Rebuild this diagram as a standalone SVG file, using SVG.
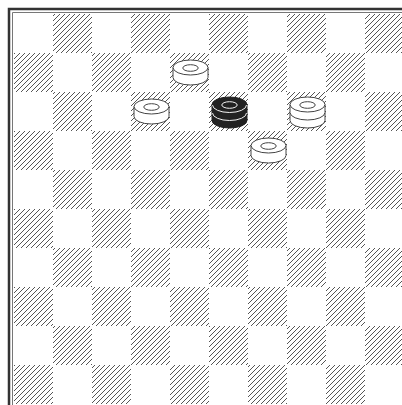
<svg xmlns="http://www.w3.org/2000/svg" width="402" height="405" viewBox="0 0 402 405">
<style>
.wside{fill:#fff;stroke:#444;stroke-width:1}
.wtop{fill:#fff;stroke:#444;stroke-width:1}
.whole{fill:none;stroke:#444;stroke-width:1}
.bfill{fill:#222;stroke:#222;stroke-width:1}
.bline{fill:none;stroke:#f2f2f2;stroke-width:1}
</style>
<defs>
<pattern id="hatch" patternUnits="userSpaceOnUse" width="5" height="5">
<path d="M-1,1 L1,-1 M0,5 L5,0 M4,6 L6,4" stroke="#555" stroke-width="1"/>
</pattern>
<g id="rowA">
<rect x="53" width="39" height="39"/><rect x="131" width="39" height="39"/><rect x="209" width="39" height="39"/><rect x="287" width="39" height="39"/><rect x="365" width="39" height="39"/>
</g>
<g id="rowB">
<rect x="14" width="39" height="39"/><rect x="92" width="39" height="39"/><rect x="170" width="39" height="39"/><rect x="248" width="39" height="39"/><rect x="326" width="39" height="39"/>
</g>
</defs>
<rect width="402" height="405" fill="#fff"/>
<g id="board" fill="url(#hatch)">
<use href="#rowA" y="14"/>
<use href="#rowB" y="53"/>
<use href="#rowA" y="92"/>
<use href="#rowB" y="131"/>
<use href="#rowA" y="170"/>
<use href="#rowB" y="209"/>
<use href="#rowA" y="248"/>
<use href="#rowB" y="287"/>
<use href="#rowA" y="326"/>
<use href="#rowB" y="365"/>
</g>
<g id="frame" fill="none">
<path d="M9,410 V9 H410" stroke="#333" stroke-width="2.5"/>
<path d="M12.5,410 V12.5 H410" stroke="#777" stroke-width="1"/>
</g>
<g id="connectors"></g>
<g id="piece-a">
<path class="wside" d="M173,67.5 V77.5 A17.5,7.5 0 0 0 208,77.5 V67.5 Z"/>
<ellipse class="wtop" cx="190.5" cy="67.5" rx="17.5" ry="7.5"/>
<ellipse class="whole" cx="190.5" cy="68" rx="7.7" ry="3.3"/>
</g>
<g id="piece-b">
<path class="wside" d="M134,106.5 V116.5 A17.5,7.5 0 0 0 169,116.5 V106.5 Z"/>
<ellipse class="wtop" cx="151.5" cy="106.5" rx="17.5" ry="7.5"/>
<ellipse class="whole" cx="151.5" cy="107" rx="7.7" ry="3.3"/>
</g>
<g id="piece-e">
<path class="wside" d="M251,145.5 V155.5 A17.5,7.5 0 0 0 286,155.5 V145.5 Z"/>
<ellipse class="wtop" cx="268.5" cy="145.5" rx="17.5" ry="7.5"/>
<ellipse class="whole" cx="268.5" cy="146" rx="7.7" ry="3.3"/>
</g>
<g id="piece-d">
<path class="wside" d="M290,112.5 V120.5 A17.5,7.5 0 0 0 325,120.5 V112.5 Z"/>
<path class="wside" d="M290,104.5 V112.5 A17.5,7.5 0 0 0 325,112.5 V104.5 Z"/>
<ellipse class="wtop" cx="307.5" cy="104.5" rx="17.5" ry="7.5"/>
<ellipse class="whole" cx="307.5" cy="105" rx="7.7" ry="3.3"/>
</g>
<g id="piece-c">
<path class="bfill" d="M212,104.5 V120.5 A17.5,7.5 0 0 0 247,120.5 V104.5 Z"/>
<ellipse class="bfill" cx="229.5" cy="104.5" rx="17.5" ry="7.5"/>
<path class="bline" d="M212.5,105 A17,7.5 0 0 0 246.5,105"/>
<path class="bline" d="M212.5,113 A17,7.5 0 0 0 246.5,113"/>
<ellipse class="bline" cx="229.5" cy="105" rx="7.7" ry="3.3"/>
</g>
</svg>
